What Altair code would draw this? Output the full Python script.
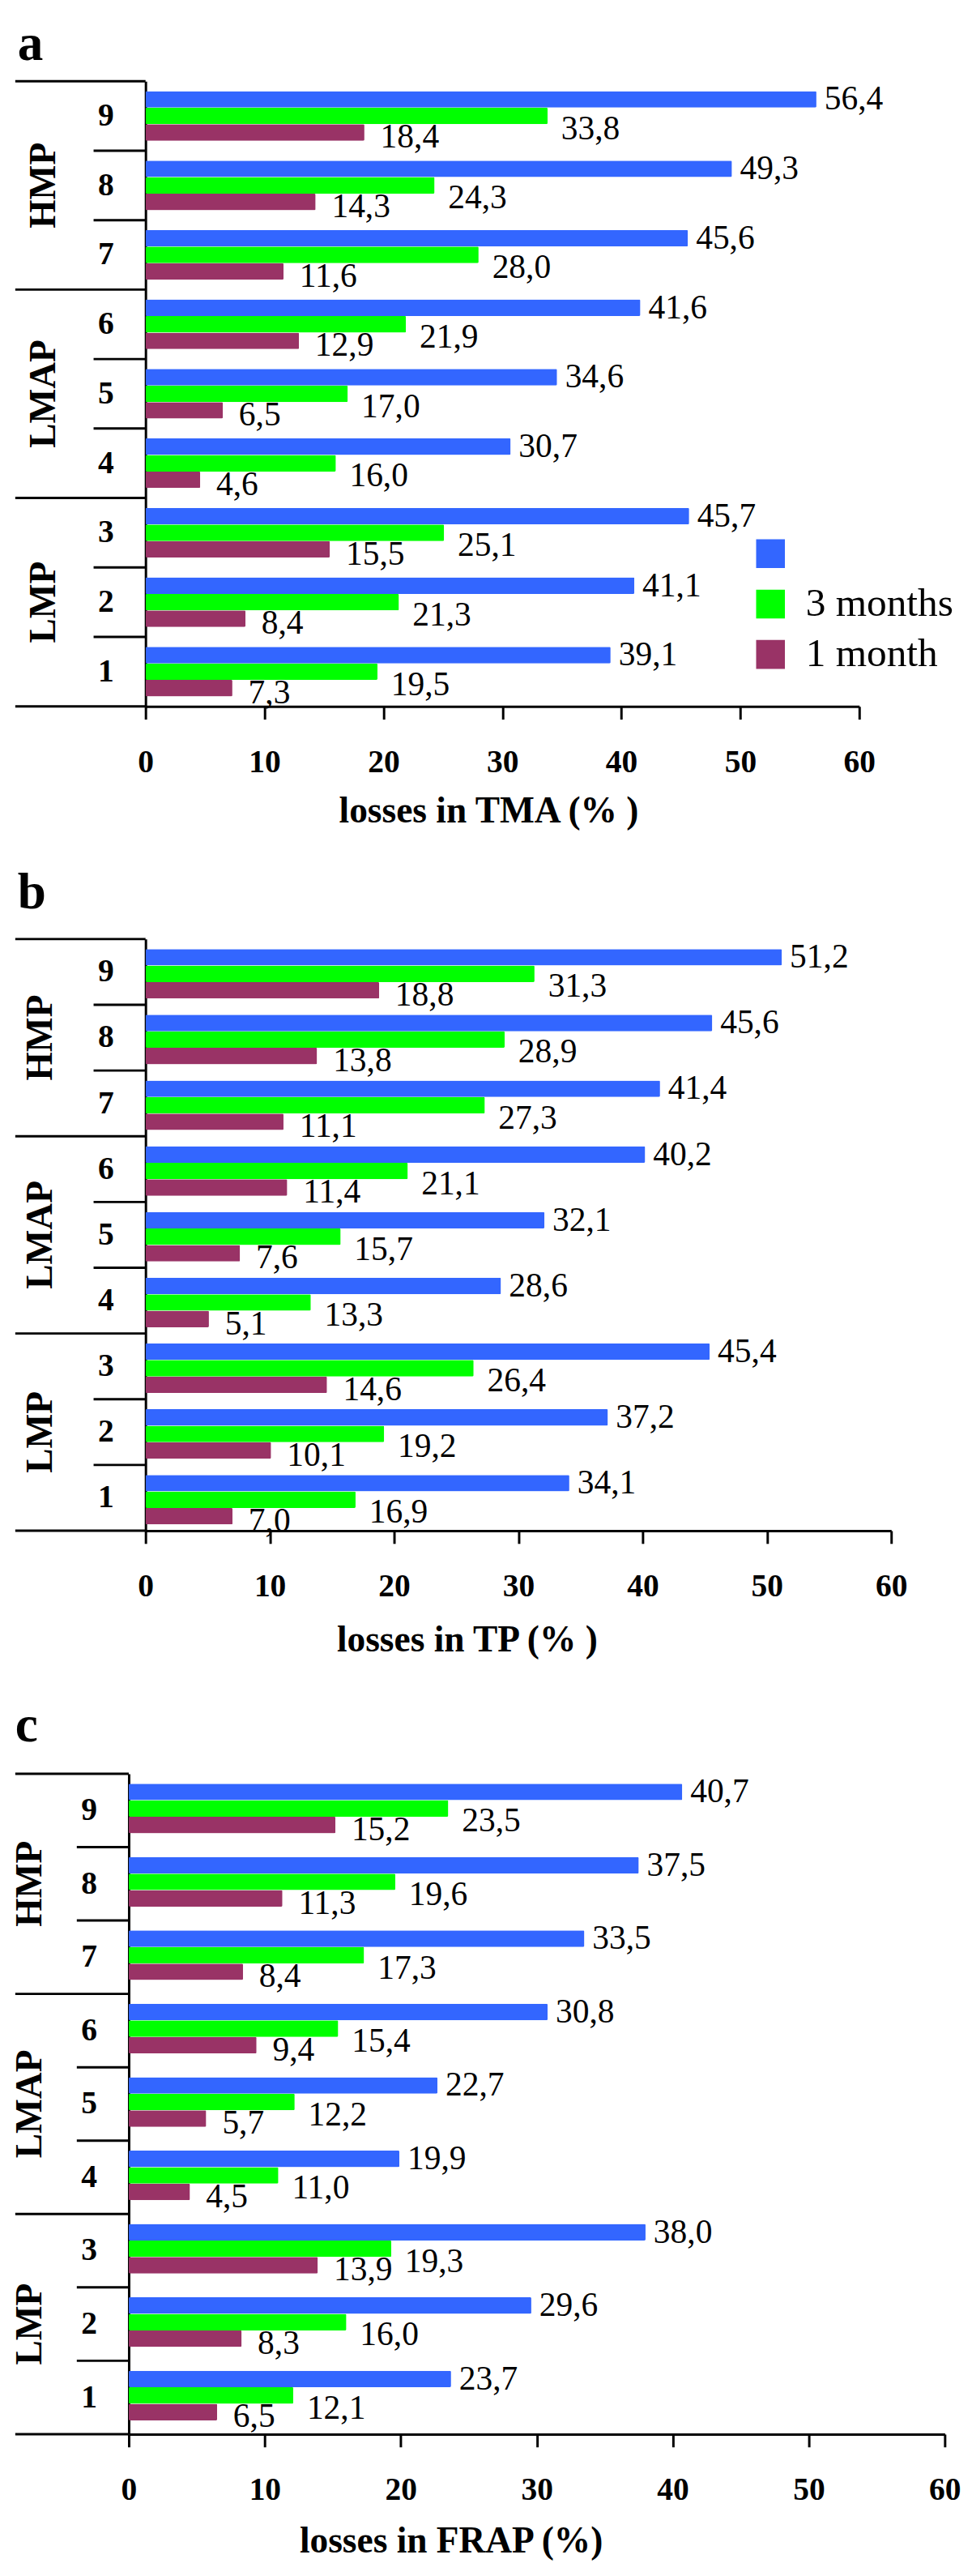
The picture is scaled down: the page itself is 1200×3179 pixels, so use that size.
import altair as alt
import pandas as pd

FONT = "Liberation Serif"

categories = ["9", "8", "7", "6", "5", "4", "3", "2", "1"]
series_order = ["6 months", "3 months", "1 month"]
series_colors = ["#3366FF", "#00FF00", "#993366"]
group_names = ["HMP", "LMAP", "LMP"]
group_members = [["9", "8", "7"], ["6", "5", "4"], ["3", "2", "1"]]
tick_values = [0, 10, 20, 30, 40, 50, 60]

# values listed for categories 9 .. 1
tma_6 = [56.4, 49.3, 45.6, 41.6, 34.6, 30.7, 45.7, 41.1, 39.1]
tma_3 = [33.8, 24.3, 28.0, 21.9, 17.0, 16.0, 25.1, 21.3, 19.5]
tma_1 = [18.4, 14.3, 11.6, 12.9, 6.5, 4.6, 15.5, 8.4, 7.3]

tp_6 = [51.2, 45.6, 41.4, 40.2, 32.1, 28.6, 45.4, 37.2, 34.1]
tp_3 = [31.3, 28.9, 27.3, 21.1, 15.7, 13.3, 26.4, 19.2, 16.9]
tp_1 = [18.8, 13.8, 11.1, 11.4, 7.6, 5.1, 14.6, 10.1, 7.0]

frap_6 = [40.7, 37.5, 33.5, 30.8, 22.7, 19.9, 38.0, 29.6, 23.7]
frap_3 = [23.5, 19.6, 17.3, 15.4, 12.2, 11.0, 19.3, 16.0, 12.1]
frap_1 = [15.2, 11.3, 8.4, 9.4, 5.7, 4.5, 13.9, 8.3, 6.5]

label_offsets = {"6 months": (10, 0), "3 months": (17, 16), "1 month": (20, 6)}

LEFT = 163  # distance from the left edge of the figure to the panels' shared origin


def panel(letter, v6, v3, v1, xtitle, width, height, shift, title_x, title_y,
          leg_x, leg_y, row_pad, bar_pad, letter_y, letter_dx, group_x, blank_first):
    rows = []
    for s, vals in zip(series_order, [v6, v3, v1]):
        for c, v in zip(categories, vals):
            rows.append({"cat": c, "series": s, "value": v})
    df = pd.DataFrame(rows)

    yscale = alt.Scale(domain=categories, paddingInner=0, paddingOuter=0)
    yoscale = alt.Scale(domain=series_order, paddingInner=0, paddingOuter=bar_pad)
    xscale = alt.Scale(domain=[0, 60], nice=False, range=[-shift, width - shift])

    legend_kw = dict(
        title=None, orient="none", legendX=leg_x, legendY=leg_y,
        symbolType="square", symbolSize=1296, symbolStrokeWidth=0,
        labelFont=FONT, labelFontSize=50, labelColor="black",
        labelOffset=19, clipHeight=50, rowPadding=row_pad,
        labelLimit=400,
    )
    if blank_first:
        legend_kw["labelExpr"] = "datum.label == '6 months' ? '' : datum.label"
    legend = alt.Legend(**legend_kw)

    bars = alt.Chart(df).mark_bar(cornerRadius=1.5).encode(
        x=alt.X("value:Q", scale=xscale,
                axis=alt.Axis(values=tick_values, title=xtitle,
                              titleX=title_x - shift, titleY=title_y)),
        y=alt.Y("cat:N", scale=yscale, axis=alt.Axis(title=None, offset=shift)),
        yOffset=alt.YOffset("series:N", scale=yoscale),
        color=alt.Color("series:N",
                        scale=alt.Scale(domain=series_order, range=series_colors),
                        legend=legend),
    )

    layers = [bars]
    for s in series_order:
        dx, dy = label_offsets[s]
        t = alt.Chart(df).transform_filter(alt.datum.series == s).transform_calculate(
            label="replace(format(datum.value, '.1f'), '.', ',')"
        ).mark_text(align="left", baseline="middle", dx=dx, dy=dy,
                    font=FONT, fontSize=42, color="black").encode(
            x=alt.X("value:Q", scale=xscale),
            y=alt.Y("cat:N", scale=yscale),
            yOffset=alt.YOffset("series:N", scale=yoscale),
            text="label:N",
        )
        layers.append(t)

    # separators inside groups (short) and between groups (long)
    short_cats = [m for g in group_members for m in g[1:]]
    long_cats = [g[0] for g in group_members]
    short_df = pd.DataFrame({"cat": short_cats})
    long_df = pd.DataFrame({"cat": long_cats})
    bottom_df = pd.DataFrame({"cat": [group_members[-1][-1]]})

    short_rules = alt.Chart(short_df).mark_rule(color="black", strokeWidth=3).encode(
        y=alt.Y("cat:N", scale=yscale, bandPosition=0),
        x=alt.value(-65 - shift), x2=alt.value(-shift),
    )
    long_rules = alt.Chart(long_df).mark_rule(color="black", strokeWidth=3).encode(
        y=alt.Y("cat:N", scale=yscale, bandPosition=0),
        x=alt.value(-LEFT), x2=alt.value(-shift),
    )
    bottom_rule = alt.Chart(bottom_df).mark_rule(color="black", strokeWidth=3).encode(
        y=alt.Y("cat:N", scale=yscale, bandPosition=1),
        x=alt.value(-LEFT), x2=alt.value(-shift),
    )
    gdf = pd.DataFrame({"cat": [g[1] for g in group_members], "name": group_names})
    glabels = alt.Chart(gdf).mark_text(
        angle=270, font=FONT, fontSize=46, fontWeight="bold", color="black",
        align="center", baseline="middle",
    ).encode(
        y=alt.Y("cat:N", scale=yscale),
        x=alt.value(group_x),
        text="name:N",
    )
    ldf = pd.DataFrame({"letter": [letter]})
    letter_mark = alt.Chart(ldf).mark_text(
        font=FONT, fontSize=64, fontWeight="bold", color="black",
        align="left", baseline="alphabetic",
    ).encode(
        x=alt.value(-LEFT + letter_dx),
        y=alt.value(-letter_y),
        text="letter:N",
    )
    layers += [short_rules, long_rules, bottom_rule, glabels, letter_mark]

    return alt.layer(*layers).properties(width=width - shift, height=height)


pa = panel("a", tma_6, tma_3, tma_1, "losses in TMA (% )", 893, 782, 0, 429, 131,
           757, 566, 13, 0.6, 27, 3, -127, True)
pb = panel("b", tp_6, tp_3, tp_1, "losses in TP (% )", 933, 740, 0, 402, 137,
           754, 522, 12, 0.52, 38, 3, -131, False)
pc = panel("c", frap_6, frap_3, frap_1, "losses in FRAP (%)", 1021, 826, 21, 403, 134,
           757, 582, 17, 0.65, 40, 0, -144, False)

top_two = alt.vconcat(pa, pb, spacing=48)
chart = alt.vconcat(top_two, pc, spacing=53).properties(
    padding={"left": 7, "top": -6, "right": 5, "bottom": 0},
    background="white",
).configure_view(stroke=None).configure_axis(
    grid=False, domainColor="black", tickColor="black",
    labelColor="black", titleColor="black",
    labelFont=FONT, titleFont=FONT,
).configure_axisX(
    labelFontSize=40, labelFontWeight="bold", tickSize=16, tickWidth=3,
    domainWidth=3, labelPadding=34, labelFlush=False, labelOverlap=False,
    titleFontSize=46, titleFontWeight="bold", titleBaseline="middle",
    titleAlign="center",
).configure_axisY(
    ticks=False, tickSize=0, domainWidth=3, labelFontSize=40,
    labelFontWeight="bold", labelAlign="center", labelBaseline="middle",
    labelPadding=50,
)

chart.save("out.html", embed_options={"renderer": "svg", "actions": False})
